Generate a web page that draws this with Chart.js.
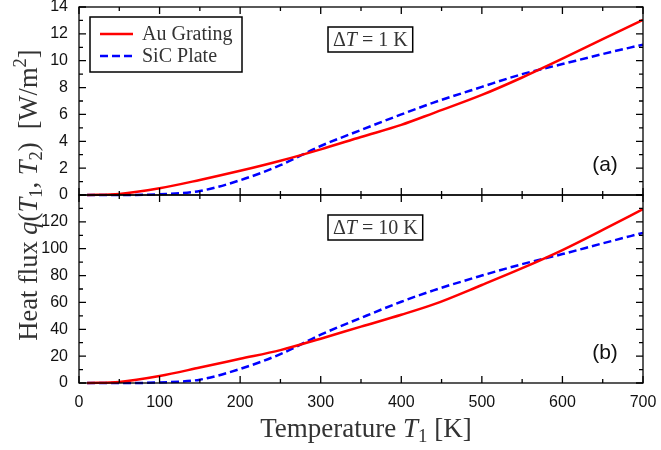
<!DOCTYPE html>
<html>
<head>
<meta charset="utf-8">
<script src="https://cdn.jsdelivr.net/npm/chart.js@4"></script>
<style>
  body { margin: 0; background: #fff; }
</style>
</head>
<body>
<canvas id="myChart" width="661" height="450"></canvas>
<script>
// temperature T1 [K]
const temps = [10, 50, 100, 150, 200, 250, 300, 350, 400, 440, 500, 550, 600, 650, 700]

// panel (a), dT = 1 K
const auGratingA = [0, 0.08, 0.5, 1.12, 1.8, 2.55, 3.4, 4.32, 5.22, 6.1, 7.45, 8.75, 10.15, 11.6, 13.05]
const sicPlateA  = [0, 0, 0.05, 0.3, 1.1, 2.22, 3.65, 4.84, 6.0, 6.88, 8.05, 9.0, 9.75, 10.5, 11.2]

// panel (b), dT = 10 K
const auGratingB = [0, 0.8, 5.2, 11.5, 18, 24.5, 33, 42, 50.8, 58.5, 73, 85.5, 99, 114, 129.5]
const sicPlateB  = [0, 0, 0.4, 2.5, 10.5, 21.5, 36, 48.5, 60.5, 69, 80, 88.5, 96, 104, 111.8]

const seriesNames = ['Au Grating', 'SiC Plate']
const panelLabels = ['(a)', '(b)']
const deltaT = ['1', '10']

const serif = '"Liberation Serif", serif'
const sans = '"Liberation Sans", Arial, sans-serif'
const textColor = '#333'

const pts = (ys) => temps.map((t, i) => ({ x: t, y: ys[i] }))

const lineStyle = (i) => i === 0
  ? { borderColor: '#ff0000', borderWidth: 2.5, borderDash: [] }
  : { borderColor: '#0000ff', borderWidth: 2.5, borderDash: [8, 4] }

const makeSet = (ys, i, axis) => ({
  label: seriesNames[i],
  data: pts(ys),
  yAxisID: axis,
  pointRadius: 0,
  fill: false,
  cubicInterpolationMode: 'monotone',
  clip: { left: 0, top: 0, right: 0, bottom: 2 },
  ...lineStyle(i)
})

// draws text made of parts: {t, it, sub, sup}
const drawRich = (ctx, parts, x, y, size, align) => {
  const fontOf = (p) => {
    const s = (p.sub || p.sup) ? size * 0.7 : size
    return (p.it ? 'italic ' : '') + s + 'px ' + serif
  }
  let total = 0
  parts.forEach(p => { ctx.font = fontOf(p); total += ctx.measureText(p.t).width })
  let cx = align === 'center' ? x - total / 2 : x
  ctx.textAlign = 'left'
  ctx.textBaseline = 'alphabetic'
  parts.forEach(p => {
    ctx.font = fontOf(p)
    let dy = 0
    if (p.sub) dy = size * 0.2
    if (p.sup) dy = -size * 0.4
    ctx.fillText(p.t, cx, y + dy)
    cx += ctx.measureText(p.t).width
  })
  return total
}

const framePlugin = {
  id: 'frame',
  afterDatasetsDraw(chart) {
    const { ctx } = chart
    const x = chart.scales.x
    const panels = [chart.scales.yA, chart.scales.yB]
    const major = 7, minor = 4
    ctx.save()
    ctx.strokeStyle = '#000'
    ctx.lineWidth = 1.3
    panels.forEach(y => {
      ctx.strokeRect(x.left, y.top, x.right - x.left, y.bottom - y.top)
      ctx.beginPath()
      // x ticks, major + minor
      const xs = x.ticks[1].value - x.ticks[0].value
      x.ticks.forEach(t => {
        const px = x.getPixelForValue(t.value)
        ctx.moveTo(px, y.bottom); ctx.lineTo(px, y.bottom - major)
        ctx.moveTo(px, y.top); ctx.lineTo(px, y.top + major)
        if (t.value + xs / 2 < x.max) {
          const pm = x.getPixelForValue(t.value + xs / 2)
          ctx.moveTo(pm, y.bottom); ctx.lineTo(pm, y.bottom - minor)
          ctx.moveTo(pm, y.top); ctx.lineTo(pm, y.top + minor)
        }
      })
      // y ticks
      const ys = y.ticks[1].value - y.ticks[0].value
      y.ticks.forEach(t => {
        const py = y.getPixelForValue(t.value)
        ctx.moveTo(x.left, py); ctx.lineTo(x.left + major, py)
        ctx.moveTo(x.right, py); ctx.lineTo(x.right - major, py)
        if (t.value + ys / 2 < y.max) {
          const pm = y.getPixelForValue(t.value + ys / 2)
          ctx.moveTo(x.left, pm); ctx.lineTo(x.left + minor, pm)
          ctx.moveTo(x.right, pm); ctx.lineTo(x.right - minor, pm)
        }
      })
      ctx.stroke()
    })
    ctx.restore()
  },
  afterDraw(chart) {
    const { ctx } = chart
    const x = chart.scales.x
    const panels = [chart.scales.yA, chart.scales.yB]
    ctx.save()

    // legend box
    const lx = x.left + 11, ly = panels[0].top + 10
    ctx.fillStyle = '#fff'
    ctx.fillRect(lx, ly, 152, 55)
    ctx.strokeStyle = '#000'
    ctx.lineWidth = 1.5
    ctx.strokeRect(lx, ly, 152, 55)
    chart.data.datasets.slice(0, 2).forEach((ds, i) => {
      const yy = ly + 17 + i * 22
      ctx.beginPath()
      ctx.strokeStyle = ds.borderColor
      ctx.lineWidth = ds.borderWidth
      ctx.setLineDash(ds.borderDash)
      ctx.moveTo(lx + 10, yy); ctx.lineTo(lx + 43, yy)
      ctx.stroke()
      ctx.setLineDash([])
      ctx.fillStyle = textColor
      drawRich(ctx, [{ t: ds.label }], lx + 52, yy + 6, 20, 'left')
    })

    // delta T boxes and panel labels
    panels.forEach((y, i) => {
      const parts = [{ t: 'Δ' }, { t: 'T', it: true }, { t: ' = ' + deltaT[i] + ' K' }]
      let w = 0
      parts.forEach(p => { ctx.font = (p.it ? 'italic ' : '') + '20px ' + serif; w += ctx.measureText(p.t).width })
      const bx = x.left + 249
      const bw = w + 10
      ctx.strokeStyle = '#000'
      ctx.lineWidth = 1.5
      ctx.strokeRect(bx, y.top + 20, bw, 25)
      ctx.fillStyle = textColor
      drawRich(ctx, parts, bx + 5, y.top + 39, 20, 'left')

      ctx.fillStyle = '#111'
      ctx.font = '21px ' + sans
      ctx.textAlign = 'center'
      ctx.textBaseline = 'middle'
      ctx.fillText(panelLabels[i], x.right - 38, y.bottom - 30)
    })

    // axis titles
    ctx.fillStyle = textColor
    drawRich(ctx, [{ t: 'Temperature ' }, { t: 'T', it: true }, { t: '1', sub: true }, { t: ' [K]' }],
      (x.left + x.right) / 2 + 5, 437, 27, 'center')

    ctx.translate(37, (panels[0].top + panels[1].bottom) / 2)
    ctx.rotate(-Math.PI / 2)
    drawRich(ctx, [
      { t: 'Heat flux ' }, { t: 'q', it: true }, { t: '(' }, { t: 'T', it: true }, { t: '1', sub: true },
      { t: ', ' }, { t: 'T', it: true }, { t: '2', sub: true }, { t: ')  [W/m' }, { t: '2', sup: true }, { t: ']' }
    ], 0, 0, 26.5, 'center')
    ctx.restore()
  }
}

const tickFont = { family: sans, size: 16 }
const yScale = (max, step, hideTop) => ({
  type: 'linear',
  position: 'left',
  stack: 'panels',
  stackWeight: 1,
  min: 0,
  max: max,
  grid: { display: false },
  border: { display: false },
  ticks: {
    stepSize: step,
    autoSkip: false,
    font: tickFont,
    color: '#111',
    padding: 3,
    callback: (v) => (hideTop && v === max) ? '' : v
  },
  afterFit: (s) => { s.width = 79; s.paddingTop = 0; s.paddingBottom = 0 }
})

const data = {
  datasets: [
    makeSet(auGratingA, 0, 'yA'),
    makeSet(sicPlateA, 1, 'yA'),
    makeSet(auGratingB, 0, 'yB'),
    makeSet(sicPlateB, 1, 'yB')
  ]
}

const config = {
  type: 'line',
  data: data,
  plugins: [framePlugin],
  options: {
    responsive: false,
    animation: false,
    events: [],
    layout: { padding: { top: 7, right: 18, left: 0, bottom: 0 } },
    plugins: {
      legend: { display: false },
      tooltip: { enabled: false }
    },
    scales: {
      x: {
        type: 'linear',
        position: 'bottom',
        min: 0,
        max: 700,
        grid: { display: false },
        border: { display: false },
        ticks: { stepSize: 100, autoSkip: false, font: tickFont, color: '#111', padding: 2, maxRotation: 0 },
        afterFit: (s) => { s.height = 67; s.paddingLeft = 0; s.paddingRight = 0 }
      },
      // listed first -> placed at the bottom of the stack
      yB: yScale(140, 20, true),
      yA: yScale(14, 2, false)
    }
  }
}

const myChart = new Chart(document.querySelector('#myChart').getContext('2d'), config)
</script>
</body>
</html>
